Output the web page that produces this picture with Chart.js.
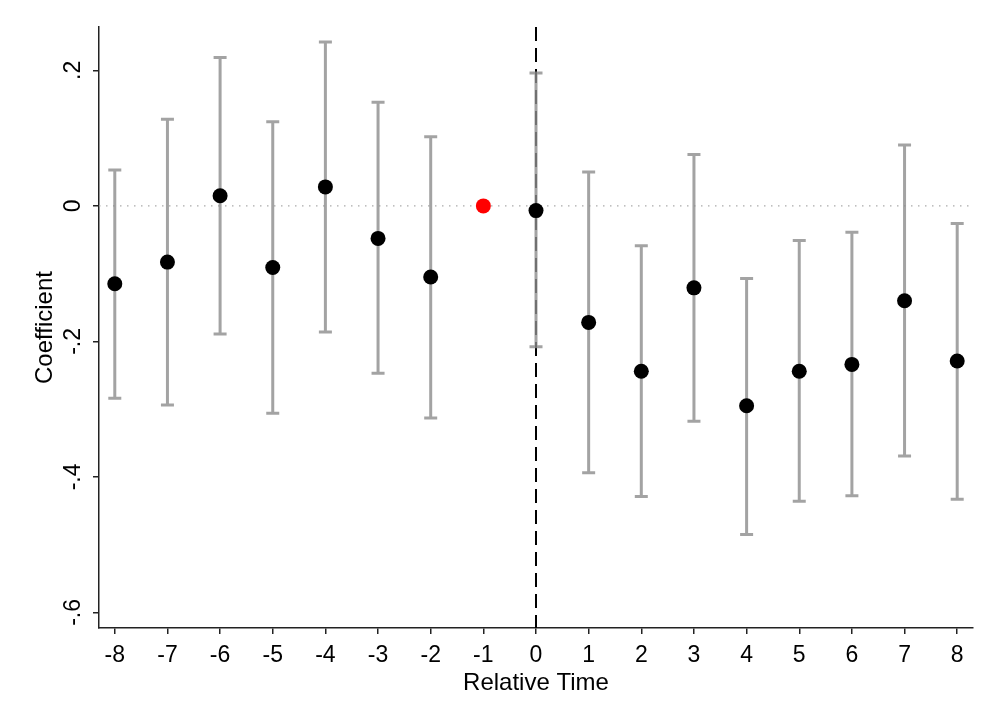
<!DOCTYPE html>
<html>
<head>
<meta charset="utf-8">
<script src="https://cdn.jsdelivr.net/npm/chart.js@4/dist/chart.umd.min.js"></script>
<style>
  body { margin: 0; background: #fff; }
  #wrap { width: 1000px; height: 727px; }
</style>
</head>
<body>
<div id="wrap"><canvas id="coefChart"></canvas></div>
<script>
// Coeficientes do event study
const relTime = [-8, -7, -6, -5, -4, -3, -2, -1, 0, 1, 2, 3, 4, 5, 6, 7, 8];
const coef    = [-0.115, -0.083, 0.015, -0.091, 0.028, -0.048, -0.105, 0, -0.007, -0.172, -0.244, -0.121, -0.295, -0.244, -0.234, -0.140, -0.229];
const ciHigh  = [0.053, 0.128, 0.219, 0.124, 0.242, 0.153, 0.102, null, 0.196, 0.050, -0.059, 0.076, -0.107, -0.051, -0.039, 0.090, -0.026];
const ciLow   = [-0.284, -0.294, -0.189, -0.306, -0.186, -0.247, -0.313, null, -0.208, -0.394, -0.429, -0.318, -0.485, -0.436, -0.428, -0.369, -0.433];
const yTicks      = [0.2, 0, -0.2, -0.4, -0.6];
const yTickLabels = ['.2', '0', '-.2', '-.4', '-.6'];
const refPeriod = -1;
const xRange = [-8.3, 8.3];
const yRange = [-0.623, 0.264];

const FONT = '"Liberation Sans", Arial, Helvetica, sans-serif';
Chart.defaults.font.family = FONT;
Chart.defaults.color = '#000';

// Intervalos de confiança (cinza, com "caps")
const errorBars = {
    id: 'errorBars',
    afterDatasetDraw(chart, args) {
        if (args.index !== 1) return; // logo depois da linha tracejada em 0
        const { ctx, scales: { x, y } } = chart;
        ctx.save();
        ctx.strokeStyle = 'rgba(140, 140, 140, 0.8)';
        ctx.lineWidth = 3;
        relTime.forEach((t, i) => {
            if (ciLow[i] === null) return;
            const px = x.getPixelForValue(t);
            const top = y.getPixelForValue(ciHigh[i]);
            const bot = y.getPixelForValue(ciLow[i]);
            ctx.beginPath();
            ctx.moveTo(px, top); ctx.lineTo(px, bot);
            ctx.moveTo(px - 6.5, top); ctx.lineTo(px + 6.5, top);
            ctx.moveTo(px - 6.5, bot); ctx.lineTo(px + 6.5, bot);
            ctx.stroke();
        });
        ctx.restore();
    }
};

// Rótulos do eixo Y rotacionados (estilo Stata)
const yLabels = {
    id: 'yLabels',
    afterDraw(chart) {
        const { ctx, scales: { y } } = chart;
        ctx.save();
        ctx.font = '23px ' + FONT;
        ctx.fillStyle = '#000';
        ctx.textAlign = 'center';
        ctx.textBaseline = 'alphabetic';
        yTicks.forEach((v, i) => {
            ctx.save();
            ctx.translate(y.right - 19, y.getPixelForValue(v));
            ctx.rotate(-Math.PI / 2);
            ctx.fillText(yTickLabels[i], 0, 0);
            ctx.restore();
        });
        ctx.restore();
    }
};

const axisGrid = { drawOnChartArea: false, drawTicks: true, tickLength: 6, color: '#222', lineWidth: 1.5 };
const axisBorder = { display: true, color: '#222', width: 1.5 };

new Chart(document.getElementById('coefChart'), {
    type: 'scatter',
    data: {
        datasets: [
            {
                label: 'Coefficient',
                data: relTime.map((t, i) => ({ x: t, y: coef[i] })),
                pointRadius: 7.5,
                pointBorderWidth: 0,
                pointBackgroundColor: c => relTime[c.dataIndex] === refPeriod ? '#ff0000' : '#000000',
                showLine: false
            },
            {
                type: 'line',
                data: [{ x: 0, y: yRange[1] }, { x: 0, y: yRange[0] }],
                borderColor: '#000',
                borderWidth: 2,
                borderDash: [14, 7],
                pointRadius: 0
            },
            {
                type: 'line',
                data: [{ x: xRange[0], y: 0 }, { x: xRange[1], y: 0 }],
                borderColor: '#aaaaaa',
                borderWidth: 1.2,
                borderDash: [1.5, 5.5],
                pointRadius: 0
            }
        ]
    },
    options: {
        responsive: true,
        maintainAspectRatio: false,
        animation: false,
        events: [],
        layout: { padding: { top: 27, right: 27, left: 0, bottom: 0 } },
        plugins: { legend: { display: false }, tooltip: { enabled: false } },
        scales: {
            x: {
                type: 'linear',
                min: xRange[0],
                max: xRange[1],
                afterBuildTicks: s => { s.ticks = relTime.map(v => ({ value: v })); },
                afterFit: s => { s.height = 99; },
                ticks: { font: { size: 23 }, color: '#000', padding: 8, maxRotation: 0, autoSkip: false },
                grid: axisGrid,
                border: axisBorder,
                title: { display: true, text: 'Relative Time', font: { size: 24 }, color: '#000', padding: { top: 0, bottom: 29 } }
            },
            y: {
                type: 'linear',
                min: yRange[0],
                max: yRange[1],
                afterBuildTicks: s => { s.ticks = yTicks.map(v => ({ value: v })); },
                afterFit: s => { s.width = 99; },
                ticks: { display: false },
                grid: axisGrid,
                border: axisBorder,
                title: { display: true, text: 'Coefficient', font: { size: 24 }, color: '#000', padding: { top: 31, bottom: 0 } }
            }
        }
    },
    plugins: [errorBars, yLabels]
});
</script>
</body>
</html>
